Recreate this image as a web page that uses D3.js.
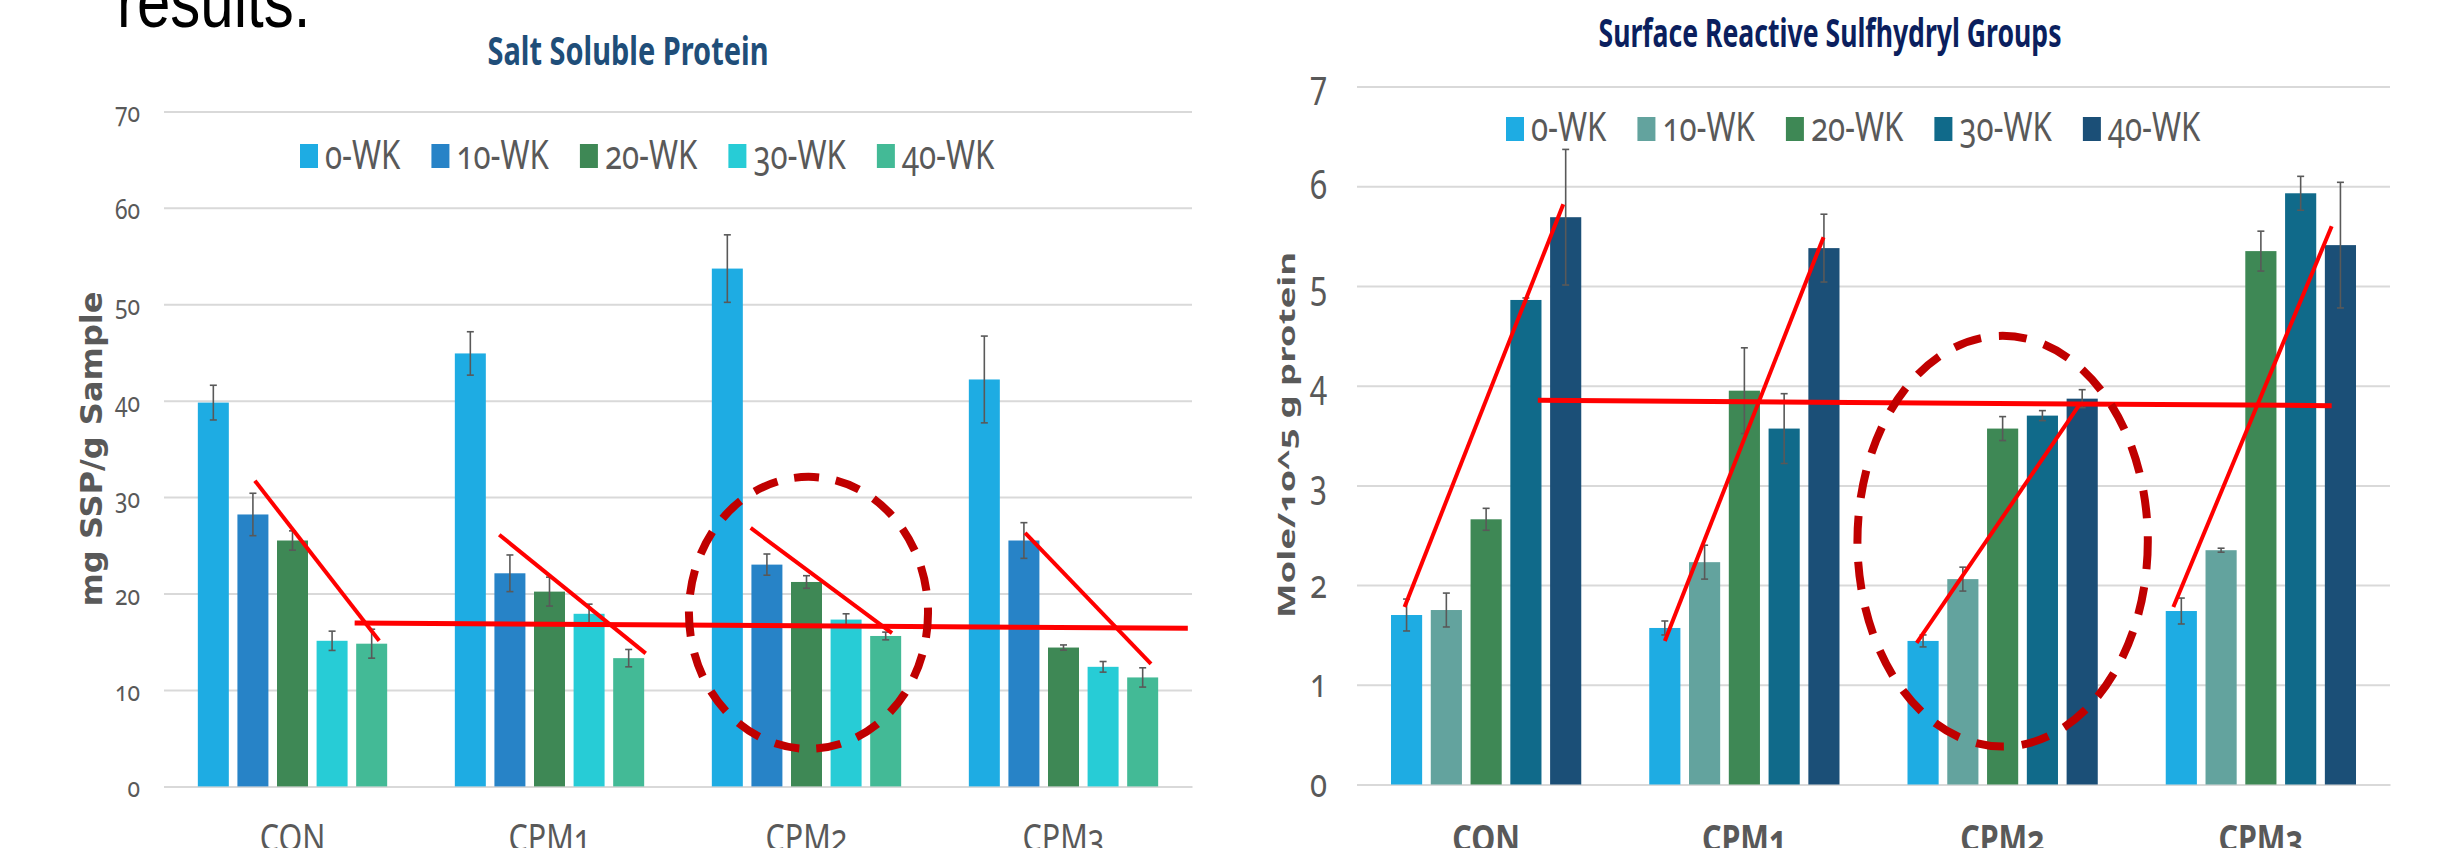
<!DOCTYPE html>
<html>
<head>
<meta charset="utf-8">
<script src="https://cdn.jsdelivr.net/npm/d3@7"></script>
<style>
  body { margin: 0; background: #fff; }
  svg { display: block; }
  text { font-family: "Noto Sans", "Open Sans", sans-serif; font-variant-numeric: oldstyle-nums; }
</style>
</head>
<body>
<svg id="chart" width="2450" height="848"></svg>
<script>
// ---------- data ----------
const categories = ["CON", "CPM1", "CPM2", "CPM3"];
const weeks = ["0-WK", "10-WK", "20-WK", "30-WK", "40-WK"];

// Salt soluble protein (mg SSP / g sample), one array per storage time, ordered by category
const ssp0wk  = [39.8, 44.9, 53.7, 42.2];
const ssp10wk = [28.2, 22.1, 23.0, 25.5];
const ssp20wk = [25.5, 20.2, 21.2, 14.4];
const ssp30wk = [15.1, 17.9, 17.3, 12.4];
const ssp40wk = [14.8, 13.3, 15.6, 11.3];
const sspErr0wk  = [1.8, 2.25, 3.5, 4.5];
const sspErr10wk = [2.2, 1.9, 1.1, 1.85];
const sspErr20wk = [1.0, 1.5, 0.65, 0.27];
const sspErr30wk = [1.0, 1.0, 0.6, 0.55];
const sspErr40wk = [1.5, 0.9, 0.4, 1.0];
const sspTicks = [0, 10, 20, 30, 40, 50, 60, 70];

// Surface reactive sulfhydryl groups (mole / 10^5 g protein)
const sh0wk  = [1.70, 1.57, 1.44, 1.74];
const sh10wk = [1.75, 2.23, 2.06, 2.35];
const sh20wk = [2.66, 3.95, 3.57, 5.35];
const sh30wk = [4.86, 3.57, 3.70, 5.93];
const sh40wk = [5.69, 5.38, 3.87, 5.41];
const shErr0wk  = [0.16, 0.07, 0.06, 0.13];
const shErr10wk = [0.17, 0.17, 0.12, 0.02];
const shErr20wk = [0.11, 0.43, 0.12, 0.20];
const shErr30wk = [0.02, 0.35, 0.05, 0.17];
const shErr40wk = [0.68, 0.34, 0.09, 0.63];
const shTicks = [0, 1, 2, 3, 4, 5, 6, 7];

// Hand-drawn trend marks, in data space: [category, bar offset from 0-WK, value, category, bar offset, value]
const sspTrends = [
  ["CON", 1.05, 31.7, "CON", 4.19, 15.1],
  ["CPM1", 0.73, 26.1, "CPM1", 4.43, 13.8],
  ["CPM2", 0.59, 26.8, "CPM2", 4.16, 15.9],
  ["CPM3", 1.03, 26.3, "CPM3", 4.21, 12.7]
];
const sspLevel = ["CON", 3.57, 16.95, "CPM3", 5.14, 16.4];
const sspRing = ["CPM2", 2.05, 18.0, 3.02, 14.1]; // centre offset, centre value, x radius (bars), y radius (value)

const shTrends = [
  ["CON", -0.05, 1.78, "CON", 3.94, 5.82],
  ["CPM1", 0.0, 1.44, "CPM1", 3.99, 5.49],
  ["CPM2", -0.16, 1.42, "CPM2", 3.95, 3.82],
  ["CPM3", -0.2, 1.78, "CPM3", 3.78, 5.60]
];
const shLevel = ["CON", 3.30, 3.853, "CPM3", 3.78, 3.80];
const shRing = ["CPM2", 2.0, 2.44, 3.65, 2.06];

const sspColors = ["#1eace3", "#2783c7", "#3e8855", "#27ccd6", "#43ba96"];
const shColors  = ["#1eace3", "#63a39e", "#3e8855", "#106a8a", "#1b4f77"];

// ---------- drawing ----------
const svg = d3.select("#chart");

// tail of the slide sentence above the charts
svg.append("text")
  .text("results.")
  .attr("transform", "translate(117,27) scale(0.8,1)")
  .style("font-family", "'Liberation Sans', Arial, sans-serif")
  .style("font-size", "75px")
  .style("font-variant-numeric", "normal")
  .attr("fill", "#000");

// horizontally condense a text node around its anchor
function condense(sel, sx, dy) {
  sel.each(function () {
    const t = d3.select(this);
    const x = +t.attr("x") || 0;
    const y = +t.attr("y") || 0;
    t.attr("x", 0).attr("y", 0).attr("dy", null)
     .attr("transform", `translate(${x},${y + dy}) scale(${sx},1)`);
  });
}

function drawPanel(p) {
  const g = svg.append("g");
  const series = p.values.map((vals, i) => ({ week: weeks[i], vals, errs: p.errors[i], color: p.colors[i] }));

  const x0 = d3.scaleBand().domain(categories).range([p.left, p.right])
    .paddingInner(0.23).paddingOuter(0.115);
  const x1 = d3.scaleBand().domain(weeks).range([0, x0.bandwidth()])
    .paddingInner(0.217).paddingOuter(0.108);
  const y = d3.scaleLinear().domain([0, p.max]).range([p.bottom, p.top]);
  const px = (cat, s) => x0(cat) + x1(weeks[0]) + x1.bandwidth() / 2 + s * x1.step();

  // value axis with gridlines
  const ya = g.append("g")
    .attr("transform", `translate(${p.left},0)`)
    .call(d3.axisLeft(y).tickValues(p.ticks).tickFormat(d3.format("d"))
      .tickSize(-(p.right - p.left)).tickPadding(p.tickPad));
  ya.attr("font-size", null).attr("font-family", null);
  ya.select(".domain").remove();
  ya.selectAll(".tick line").attr("stroke", "#d9d9d9").attr("stroke-width", 2);
  ya.selectAll(".tick text")
    .attr("fill", "#595959")
    .style("font-size", p.tickFont + "px")
    .call(condense, p.tickSx, p.tickDy);

  // category axis
  const xa = g.append("g")
    .attr("transform", `translate(0,${p.bottom})`)
    .call(d3.axisBottom(x0).tickSize(0).tickSizeOuter(0).tickPadding(0));
  xa.attr("font-size", null).attr("font-family", null);
  xa.select(".domain").attr("stroke", "#d9d9d9").attr("stroke-width", 2);
  xa.selectAll(".tick text")
    .attr("fill", p.catColor)
    .style("font-size", p.catFont + "px")
    .style("font-weight", p.catWeight)
    .call(condense, p.catSx, p.catDy);

  // bars
  const groups = g.append("g").selectAll("g").data(series).join("g").attr("fill", d => d.color);
  groups.selectAll("rect")
    .data(d => d.vals.map((v, j) => ({ cat: categories[j], week: d.week, v })))
    .join("rect")
    .attr("x", d => x0(d.cat) + x1(d.week))
    .attr("y", d => y(d.v))
    .attr("width", x1.bandwidth())
    .attr("height", d => y(0) - y(d.v));

  // error bars
  const eb = g.append("g").attr("stroke", "#595959").attr("stroke-width", 1.6).attr("fill", "none");
  series.forEach(s => {
    s.vals.forEach((v, j) => {
      const cx = x0(categories[j]) + x1(s.week) + x1.bandwidth() / 2;
      const hi = y(v + s.errs[j]), lo = y(v - s.errs[j]);
      eb.append("line").attr("x1", cx).attr("x2", cx).attr("y1", hi).attr("y2", lo);
      eb.append("line").attr("x1", cx - 3.5).attr("x2", cx + 3.5).attr("y1", hi).attr("y2", hi);
      eb.append("line").attr("x1", cx - 3.5).attr("x2", cx + 3.5).attr("y1", lo).attr("y2", lo);
    });
  });

  // trend marks
  const marks = g.append("g").attr("stroke", "#ff0000").attr("fill", "none");
  marks.selectAll("line.trend").data(p.trends).join("line")
    .attr("class", "trend")
    .attr("x1", d => px(d[0], d[1])).attr("y1", d => y(d[2]))
    .attr("x2", d => px(d[3], d[4])).attr("y2", d => y(d[5]))
    .attr("stroke-width", 4);
  marks.append("line")
    .attr("x1", px(p.level[0], p.level[1])).attr("y1", y(p.level[2]))
    .attr("x2", px(p.level[3], p.level[4])).attr("y2", y(p.level[5]))
    .attr("stroke-width", 5);

  g.append("ellipse")
    .attr("cx", px(p.ring[0], p.ring[1]))
    .attr("cy", y(p.ring[2]))
    .attr("rx", p.ring[3] * x1.step())
    .attr("ry", y(0) - y(p.ring[4]))
    .attr("fill", "none")
    .attr("stroke", "#c00000")
    .attr("stroke-width", 8)
    .attr("stroke-dasharray", p.dash);

  // chart title
  g.append("text")
    .text(p.title)
    .attr("x", p.titleX).attr("y", p.titleY)
    .attr("text-anchor", "middle")
    .attr("textLength", p.titleLen)
    .attr("lengthAdjust", "spacingAndGlyphs")
    .attr("fill", p.titleColor)
    .style("font-size", "40px")
    .style("font-weight", 700);

  // value-axis title
  g.append("text")
    .text(p.yTitle)
    .attr("transform", `translate(${p.yTitleX},${p.yTitleY}) rotate(-90) scale(1,${p.yTitleSx})`)
    .attr("text-anchor", "middle")
    .attr("textLength", p.yTitleLen)
    .attr("lengthAdjust", "spacingAndGlyphs")
    .attr("fill", "#595959")
    .style("font-family", p.yTitleFamily)
    .style("font-size", p.yTitleFont + "px")
    .style("font-weight", 700);

  // legend
  const lg = g.append("g");
  let lx = p.legendX;
  series.forEach(s => {
    lg.append("rect").attr("x", lx).attr("y", p.swatchY).attr("width", 18).attr("height", 24).attr("fill", s.color);
    const t = lg.append("text").text(s.week)
      .attr("fill", "#595959")
      .style("font-size", "40px")
      .attr("transform", `translate(${lx + 25},${p.legendBase}) scale(${p.legendSx},1)`);
    const w = t.node().getComputedTextLength() * p.legendSx;
    lx += 25 + w + 31;
  });
}

drawPanel({
  values: [ssp0wk, ssp10wk, ssp20wk, ssp30wk, ssp40wk],
  errors: [sspErr0wk, sspErr10wk, sspErr20wk, sspErr30wk, sspErr40wk],
  colors: sspColors, ticks: sspTicks, max: 70,
  left: 164, right: 1192, bottom: 786.4, top: 111.4,
  tickFont: 27, tickSx: 0.85, tickPad: 24, tickDy: 10.5,
  catFont: 38, catSx: 0.8, catDy: 65, catWeight: 400, catColor: "#595959",
  title: "Salt Soluble Protein", titleX: 628, titleY: 65, titleLen: 281, titleColor: "#1f4e79",
  yTitle: "mg SSP/g Sample", yTitleX: 102, yTitleY: 449, yTitleLen: 315, yTitleFont: 32,
  yTitleSx: 0.92, yTitleFamily: "DejaVu Sans",
  legendX: 300, swatchY: 144, legendBase: 169, legendSx: 0.78,
  trends: sspTrends, level: sspLevel, ring: sspRing, dash: "25 17"
});

drawPanel({
  values: [sh0wk, sh10wk, sh20wk, sh30wk, sh40wk],
  errors: [shErr0wk, shErr10wk, shErr20wk, shErr30wk, shErr40wk],
  colors: shColors, ticks: shTicks, max: 7,
  left: 1357, right: 2390, bottom: 784.5, top: 86.6,
  tickFont: 40, tickSx: 0.78, tickPad: 30, tickDy: 12,
  catFont: 38, catSx: 0.8, catDy: 67, catWeight: 700, catColor: "#595959",
  title: "Surface Reactive Sulfhydryl Groups", titleX: 1830, titleY: 47, titleLen: 463, titleColor: "#0b1f5e",
  yTitle: "Mole/10^5 g protein", yTitleX: 1295, yTitleY: 435, yTitleLen: 366, yTitleFont: 32,
  yTitleSx: 0.75, yTitleFamily: "'Noto Sans', sans-serif",
  legendX: 1506, swatchY: 117, legendBase: 141, legendSx: 0.78,
  trends: shTrends, level: shLevel, ring: shRing, dash: "28 18"
});
</script>
</body>
</html>
